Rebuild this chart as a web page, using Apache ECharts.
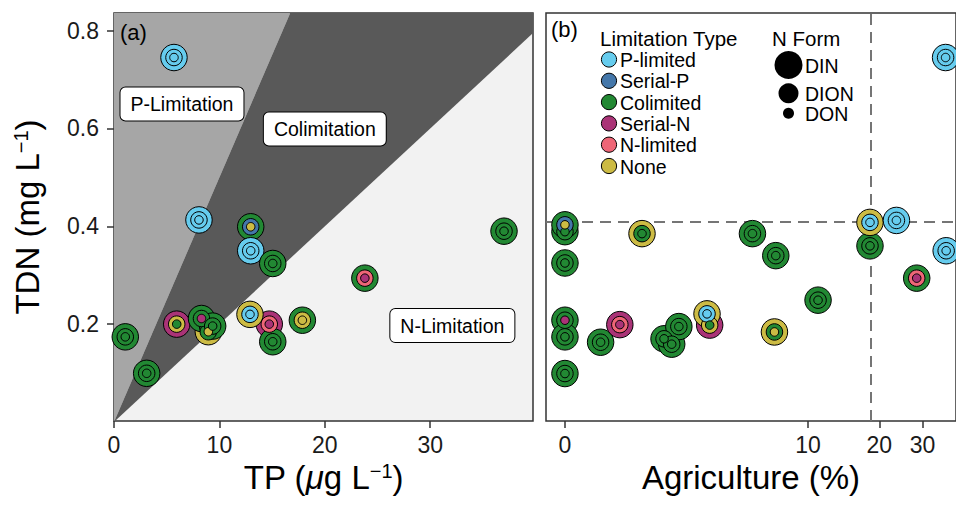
<!DOCTYPE html>
<html><head><meta charset="utf-8">
<script src="https://cdn.jsdelivr.net/npm/echarts@6/dist/echarts.min.js"></script>
<style>html,body{margin:0;padding:0;background:#fff}#c{width:956px;height:506px}</style>
</head><body><div id="c"></div>
<script>
// ---------- categories ----------
const limitTypes = ['P-limited','Serial-P','Colimited','Serial-N','N-limited','None'];
const limitColors = ['#66CCEE','#4477AA','#228833','#AA3377','#EE6677','#CCBB44'];
const nForms = ['DIN','DION','DON'];

// ---------- panel (a): TDN vs TP ----------
const tpA   = [5.69, 8.06, 12.97, 12.97, 1.07, 3.10, 5.95, 8.95, 8.30, 9.36, 14.73, 12.90, 15.06, 15.06, 23.80, 37.00, 17.87];
const tdnA  = [0.745,0.413,0.399, 0.350, 0.174,0.0995,0.200,0.1845,0.2115,0.196,0.200, 0.220, 0.324, 0.164, 0.294, 0.390, 0.208];
const dinA  = ['P-limited','P-limited','Colimited','P-limited','Colimited','Colimited','Serial-N','None','Colimited','Colimited','Serial-N','None','Colimited','Colimited','Colimited','Colimited','Colimited'];
const dionA = ['P-limited','P-limited','Serial-P','P-limited','Colimited','Colimited','None','Colimited','Colimited','Colimited','N-limited','P-limited','Colimited','Colimited','N-limited','Colimited','None'];
const donA  = ['P-limited','P-limited','None','P-limited','Colimited','Colimited','Colimited','None','Serial-N','Colimited','Serial-N','P-limited','Colimited','Colimited','Serial-N','Colimited','None'];

// ---------- panel (b): TDN vs Agriculture ----------
const agB   = [0,     0,     1.28,  5.59,  7.18,  0,     18.3,  18.3,  23.5,  37.3,  28.4,  11.05, 0,     0,     0,     0.485, 0.818, 1.838, 2.06,  2.28,  3.41,  3.30,  7.08,  37.1];
const tdnB  = [0.389, 0.403, 0.385, 0.385, 0.340, 0.325, 0.360, 0.408, 0.412, 0.350, 0.294, 0.249, 0.208, 0.174, 0.099, 0.163, 0.199, 0.170, 0.159, 0.195, 0.198, 0.221, 0.184, 0.745];
const dinB  = ['Colimited','Colimited','None','Colimited','Colimited','Colimited','Colimited','None','P-limited','P-limited','Colimited','Colimited','Colimited','Colimited','Colimited','Colimited','Serial-N','Colimited','Colimited','Colimited','Serial-N','None','None','P-limited'];
const dionB = ['Colimited','Serial-P','Colimited','Colimited','Colimited','Colimited','Colimited','P-limited','P-limited','P-limited','N-limited','Colimited','Colimited','Colimited','Colimited','Colimited','N-limited','Colimited','Colimited','Colimited','None','P-limited','Colimited','P-limited'];
const donB  = ['Colimited','None','Colimited','Colimited','Colimited','Colimited','Colimited','P-limited','P-limited','P-limited','Serial-N','Colimited','Serial-N','Colimited','Colimited','Colimited','Serial-N','Colimited','Colimited','Colimited','Colimited','P-limited','None','P-limited'];

// ---------- reference lines / annotations ----------
const ratioBounds = [20, 50];          // TDN:TP (mass) boundaries of the shaded regions
const regionNames = ['P-Limitation','Colimitation','N-Limitation'];
const regionTP    = [6.45, 20.0, 32.1];
const regionTDN   = [0.650, 0.599, 0.197];
const agThreshold = 18.3;
const tdnThreshold = 0.405;

// ---------- tick labels ----------
const tpTicks  = [0, 10, 20, 30];
const agTicks  = [0, 10, 20, 30];
const tdnTicks = [0.2, 0.4, 0.6, 0.8];

// ---------- axis ranges ----------
const TP_MIN = 0, TP_MAX = 39.75, TDN_MIN = 0.002, TDN_MAX = 0.836;
const AG_OFF = 1.3;
const agT = v => Math.log10((v + AG_OFF) / AG_OFF);
const agInv = t => AG_OFF * Math.pow(10, t) - AG_OFF;
const B_WIDTH = 411;
const AG_MIN = -0.0732, AG_MAX = AG_MIN + B_WIDTH / 259.5;

const FONT = '"Liberation Sans", Arial, Helvetica, sans-serif';
const colorOf = name => limitColors[limitTypes.indexOf(name)];
const sizes = [26.5, 16.5, 8.5];

function scatterSeries(xs, ys, types, k, grid) {
  return {
    type: 'scatter', xAxisIndex: grid, yAxisIndex: grid, symbol: 'circle',
    symbolSize: sizes[k], z: 10 + k, silent: true,
    itemStyle: { borderColor: '#000', borderWidth: 1, opacity: 1 },
    data: xs.map((x, i) => ({ value: [x, ys[i]], itemStyle: { color: colorOf(types[i]) } }))
  };
}

const lowR = Math.min(...ratioBounds) / 1000, highR = Math.max(...ratioBounds) / 1000;
const polys = [
  { pts: [[0, 0], [TDN_MAX / highR, TDN_MAX], [0, TDN_MAX]], fill: '#A6A6A6' },
  { pts: [[0, 0], [TP_MAX, TP_MAX * lowR], [TP_MAX, TDN_MAX], [TDN_MAX / highR, TDN_MAX]], fill: '#595959' }
];

const series = [
  {
    type: 'custom', xAxisIndex: 0, yAxisIndex: 0, silent: true, z: 1, clip: true,
    data: polys.map(() => [0, 0]),
    renderItem: (params, api) => {
      const p = polys[params.dataIndex];
      return { type: 'polygon', shape: { points: p.pts.map(q => api.coord(q)) }, style: { fill: p.fill, stroke: null } };
    }
  },
  {
    type: 'scatter', xAxisIndex: 0, yAxisIndex: 0, symbolSize: 0, z: 5, silent: true,
    itemStyle: { opacity: 1 },
    data: regionNames.map((n, i) => ({ name: n, value: [regionTP[i], regionTDN[i]] })),
    label: {
      show: true, position: 'inside', formatter: p => p.name, fontSize: 19.5, color: '#000', fontFamily: FONT,
      backgroundColor: '#ffffff', borderColor: '#000', borderWidth: 1, borderRadius: 5, padding: [7, 10, 6, 10], opacity: 1
    }
  },
  {
    type: 'line', xAxisIndex: 1, yAxisIndex: 1, data: [], z: 2, silent: true,
    markLine: {
      silent: true, symbol: 'none', animation: false, label: { show: false },
      lineStyle: { color: '#757575', width: 2, type: [11, 7] },
      data: [{ xAxis: agT(agThreshold) }, { yAxis: tdnThreshold }]
    }
  },
  scatterSeries(tpA, tdnA, dinA, 0, 0),
  scatterSeries(tpA, tdnA, dionA, 1, 0),
  scatterSeries(tpA, tdnA, donA, 2, 0),
  scatterSeries(agB.map(agT), tdnB, dinB, 0, 1),
  scatterSeries(agB.map(agT), tdnB, dionB, 1, 1),
  scatterSeries(agB.map(agT), tdnB, donB, 2, 1)
];

// legend (graphic)
const graphics = [
  { type: 'text', left: 120, top: 21, style: { text: '(a)', font: '22px ' + FONT, fill: '#000' }, z: 100 },
  { type: 'text', left: 551, top: 18, style: { text: '(b)', font: '22px ' + FONT, fill: '#000' }, z: 100 },
  { type: 'text', left: 600, top: 28, style: { text: 'Limitation Type', font: '20.5px ' + FONT, fill: '#000' }, z: 100 },
  { type: 'text', left: 772, top: 28, style: { text: 'N Form', font: '20.5px ' + FONT, fill: '#000' }, z: 100 }
];
limitTypes.forEach((t, i) => {
  const cy = 59.5 + i * 21.3;
  graphics.push({ type: 'circle', shape: { cx: 609, cy: cy, r: 7.6 }, style: { fill: limitColors[i], stroke: '#000', lineWidth: 1 }, z: 100 });
  graphics.push({ type: 'text', x: 620, y: cy + 0.5, style: { text: t, font: '19.5px ' + FONT, fill: '#000', textVerticalAlign: 'middle', verticalAlign: 'middle' }, z: 100 });
});
const nfY = [65, 93.3, 113.3], nfR = [14, 10, 5.5];
nForms.forEach((f, i) => {
  graphics.push({ type: 'circle', shape: { cx: 788.5, cy: nfY[i], r: nfR[i] }, style: { fill: '#000' }, z: 100 });
  graphics.push({ type: 'text', x: 805, y: nfY[i] + 1, style: { text: f, font: '19.5px ' + FONT, fill: '#000', textVerticalAlign: 'middle', verticalAlign: 'middle' }, z: 100 });
});

const tickStyle = { show: true, length: 7, lineStyle: { color: '#333', width: 1.5 } };
const labelBase = { fontSize: 23, color: '#1a1a1a', fontFamily: FONT };
const nameStyle = {
  fontSize: 33, color: '#000', fontFamily: FONT,
  rich: {
    s: { fontSize: 20, verticalAlign: 'top', fontFamily: FONT, color: '#000' },
    i: { fontSize: 33, fontStyle: 'italic', fontFamily: FONT, color: '#000' }
  }
};

const option = {
  animation: false,
  textStyle: { fontFamily: FONT },
  grid: [
    { left: 114, top: 13, width: 419, height: 408, show: true, borderColor: '#333', borderWidth: 1.5, backgroundColor: '#F2F2F2', containLabel: false },
    { left: 546, top: 13, width: B_WIDTH, height: 408, show: true, borderColor: '#333', borderWidth: 1.5, backgroundColor: '#fff', containLabel: false }
  ],
  xAxis: [
    {
      type: 'value', gridIndex: 0, min: TP_MIN, max: TP_MAX, interval: 10,
      axisLine: { show: false }, splitLine: { show: false },
      axisTick: Object.assign({}, tickStyle, { customValues: tpTicks }),
      axisLabel: Object.assign({}, labelBase, { margin: 12, customValues: tpTicks, formatter: v => String(v) }),
      name: 'TP ({i|μ}g L{s|−1})', nameLocation: 'middle', nameGap: 37, nameTextStyle: nameStyle
    },
    {
      type: 'value', gridIndex: 1, min: AG_MIN, max: AG_MAX,
      axisLine: { show: false }, splitLine: { show: false },
      axisTick: Object.assign({}, tickStyle, { customValues: agTicks.map(agT) }),
      axisLabel: Object.assign({}, labelBase, { margin: 12, customValues: agTicks.map(agT), formatter: v => String(Math.round(agInv(v))) }),
      name: 'Agriculture (%)', nameLocation: 'middle', nameGap: 37, nameTextStyle: nameStyle
    }
  ],
  yAxis: [
    {
      type: 'value', gridIndex: 0, min: TDN_MIN, max: TDN_MAX,
      axisLine: { show: false }, splitLine: { show: false },
      axisTick: Object.assign({}, tickStyle, { customValues: tdnTicks }),
      axisLabel: Object.assign({}, labelBase, { margin: 15, customValues: tdnTicks, formatter: v => v.toFixed(1) }),
      name: 'TDN (mg L{s|−1})', nameLocation: 'middle', nameGap: 70, nameRotate: 90, nameTextStyle: nameStyle
    },
    {
      type: 'value', gridIndex: 1, min: TDN_MIN, max: TDN_MAX,
      axisLine: { show: false }, splitLine: { show: false }, axisTick: { show: false }, axisLabel: { show: false }
    }
  ],
  graphic: graphics,
  series: series
};

const chart = echarts.init(document.getElementById('c'), null, { renderer: 'svg' });
chart.setOption(option);
</script>
</body></html>
